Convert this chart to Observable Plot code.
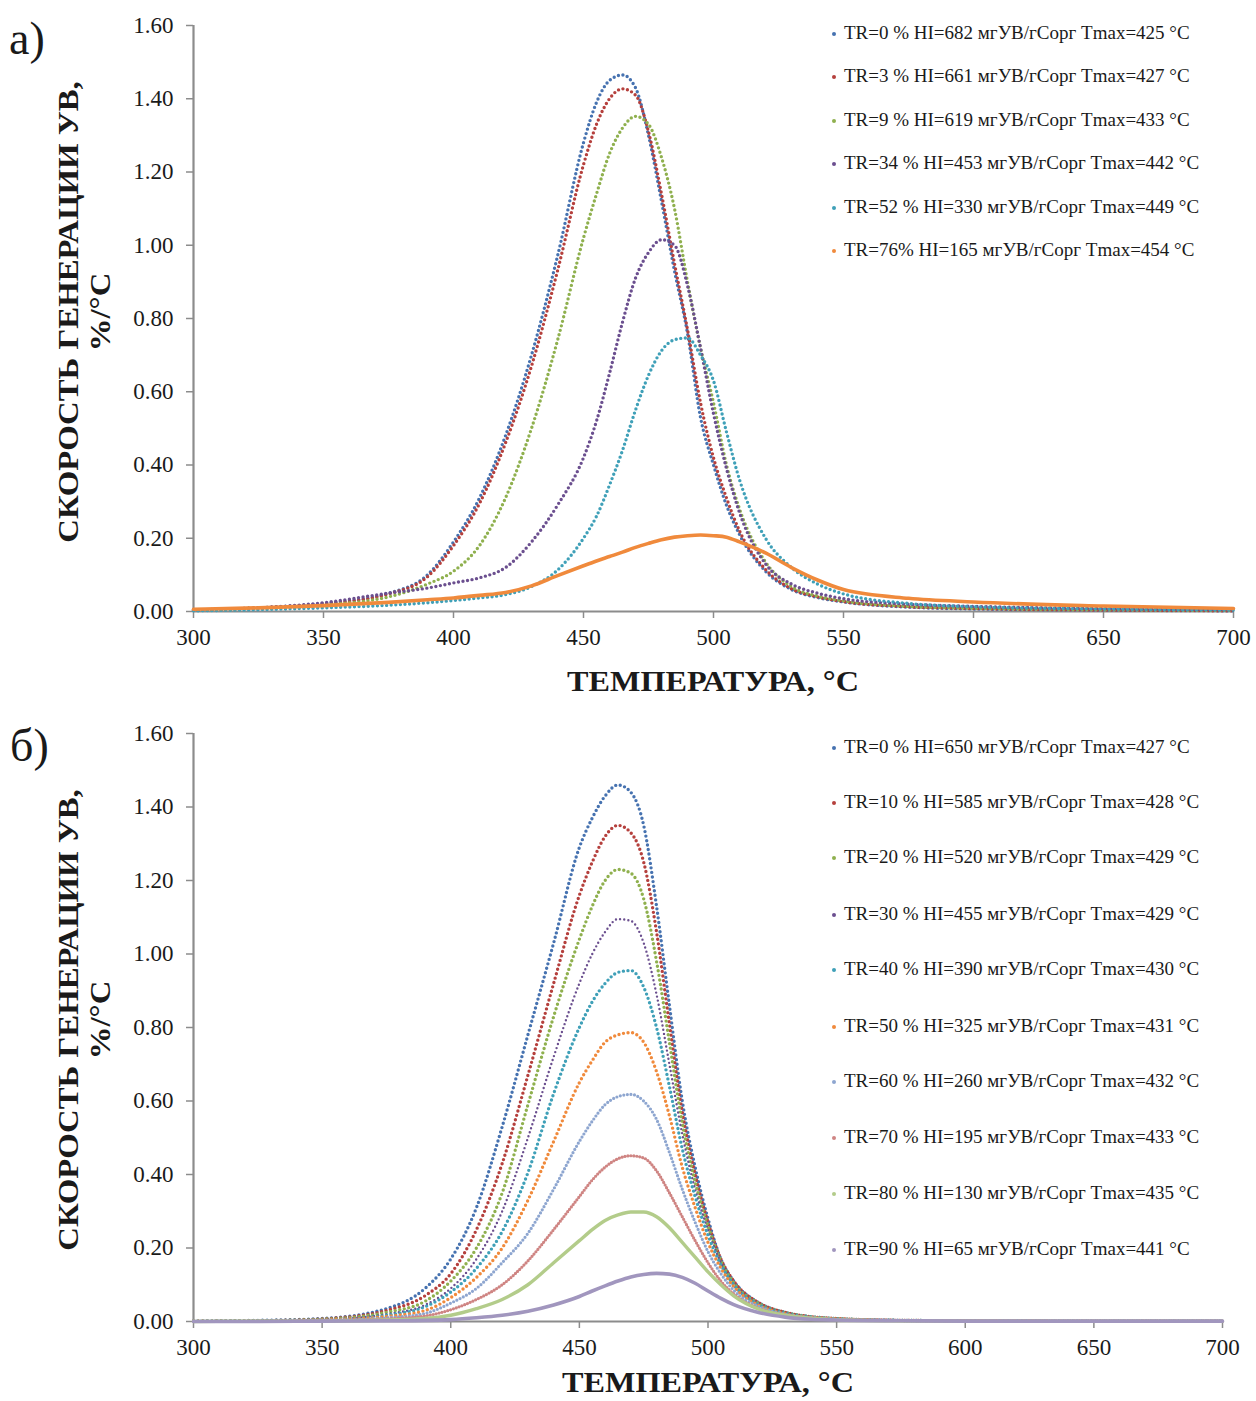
<!DOCTYPE html>
<html><head><meta charset="utf-8">
<script src="https://cdn.jsdelivr.net/npm/d3@7"></script>
<script src="https://cdn.jsdelivr.net/npm/@observablehq/plot@0.6"></script>
<style>
body{margin:0;background:#fff;}
#wrap{position:relative;width:1256px;height:1401px;overflow:hidden;font-family:"Liberation Serif","Times New Roman",serif;color:#1a1a1a;background:#fff;}
.panel{position:absolute;left:0;}
.ytitle{position:absolute;font-weight:bold;font-size:29px;line-height:32px;text-align:center;transform:translate(-50%,-50%) rotate(-90deg) scaleX(1.13);white-space:nowrap;}
.xtitle{position:absolute;font-weight:bold;font-size:29px;line-height:32px;transform:translate(-50%,-50%) scaleX(1.11);white-space:nowrap;}
.letter{position:absolute;font-size:46px;line-height:46px;}
.leg{position:absolute;font-size:19px;line-height:22px;white-space:nowrap;transform:translateY(-50%);}
.leg i{display:inline-block;width:4px;height:4px;border-radius:50%;margin-right:8px;vertical-align:middle;position:relative;top:-1px;}
</style></head>
<body><div id="wrap"></div>
<script>
// ---------- data ----------
const temps = [300,325,350,375,390,400,410,420,430,440,450,455,460,465,470,475,480,485,490,495,500,505,510,520,530,540,550,575,600,650,700];
const xTicks = [300,350,400,450,500,550,600,650,700];
const yTicks = [0,0.2,0.4,0.6,0.8,1.0,1.2,1.4,1.6];

// panel a
const labelsA = [
  "TR=0 % HI=682 мгУВ/гСорг Tmax=425 °C",
  "TR=3 % HI=661 мгУВ/гСорг Tmax=427 °C",
  "TR=9 % HI=619 мгУВ/гСорг Tmax=433 °C",
  "TR=34 % HI=453 мгУВ/гСорг Tmax=442 °C",
  "TR=52 % HI=330 мгУВ/гСорг Tmax=449 °C",
  "TR=76% HI=165 мгУВ/гСорг Tmax=454 °C"
];
const a_TR0  = [0.004,0.010,0.022,0.050,0.100,0.190,0.310,0.480,0.700,0.970,1.280,1.390,1.450,1.465,1.430,1.300,1.120,0.930,0.760,0.530,0.400,0.290,0.210,0.110,0.060,0.038,0.026,0.012,0.007,0.004,0.002];
const a_TR3  = [0.004,0.010,0.021,0.048,0.095,0.180,0.295,0.460,0.670,0.930,1.220,1.330,1.400,1.427,1.410,1.310,1.140,0.950,0.770,0.570,0.420,0.310,0.220,0.115,0.062,0.040,0.027,0.013,0.008,0.004,0.002];
const a_TR9  = [0.004,0.009,0.018,0.040,0.075,0.110,0.180,0.310,0.500,0.740,1.020,1.140,1.250,1.320,1.352,1.330,1.240,1.100,0.900,0.720,0.570,0.400,0.280,0.135,0.068,0.042,0.029,0.014,0.009,0.005,0.003];
const a_TR34 = [0.004,0.010,0.024,0.050,0.064,0.078,0.092,0.120,0.190,0.290,0.420,0.520,0.650,0.790,0.910,0.980,1.015,1.000,0.890,0.720,0.540,0.390,0.270,0.130,0.075,0.050,0.035,0.020,0.014,0.008,0.005];
const a_TR52 = [0.002,0.005,0.010,0.017,0.024,0.030,0.037,0.046,0.068,0.113,0.200,0.260,0.345,0.440,0.550,0.645,0.712,0.742,0.747,0.700,0.630,0.490,0.360,0.200,0.120,0.075,0.048,0.022,0.013,0.007,0.004];
const a_TR76 = [0.006,0.010,0.016,0.025,0.032,0.037,0.044,0.052,0.070,0.098,0.125,0.138,0.150,0.162,0.175,0.186,0.196,0.203,0.207,0.209,0.207,0.203,0.190,0.160,0.120,0.086,0.060,0.036,0.026,0.015,0.008];

// panel б
const labelsB = [
  "TR=0 % HI=650 мгУВ/гСорг Tmax=427 °C",
  "TR=10 % HI=585 мгУВ/гСорг Tmax=428 °C",
  "TR=20 % HI=520 мгУВ/гСорг Tmax=429 °C",
  "TR=30 % HI=455 мгУВ/гСорг Tmax=429 °C",
  "TR=40 % HI=390 мгУВ/гСорг Tmax=430 °C",
  "TR=50 % HI=325 мгУВ/гСорг Tmax=431 °C",
  "TR=60 % HI=260 мгУВ/гСорг Tmax=432 °C",
  "TR=70 % HI=195 мгУВ/гСорг Tmax=433 °C",
  "TR=80 % HI=130 мгУВ/гСорг Tmax=435 °C",
  "TR=90 % HI=65 мгУВ/гСорг Tmax=441 °C"
];
const b_TR0  = [0.001,0.003,0.008,0.035,0.090,0.170,0.310,0.530,0.780,1.030,1.290,1.370,1.430,1.460,1.440,1.350,1.130,0.860,0.600,0.420,0.280,0.170,0.110,0.050,0.025,0.013,0.008,0.003,0.002,0.001,0.001];
const b_TR10 = [0.001,0.002,0.007,0.030,0.070,0.130,0.250,0.430,0.670,0.920,1.160,1.250,1.320,1.350,1.330,1.250,1.060,0.810,0.570,0.400,0.270,0.170,0.110,0.050,0.025,0.013,0.008,0.003,0.002,0.001,0.001];
const b_TR20 = [0.001,0.002,0.006,0.025,0.055,0.110,0.200,0.350,0.590,0.830,1.040,1.130,1.200,1.230,1.220,1.150,0.980,0.760,0.540,0.380,0.260,0.165,0.105,0.048,0.024,0.013,0.008,0.003,0.002,0.001,0.001];
const b_TR30 = [0.001,0.002,0.005,0.020,0.045,0.090,0.170,0.300,0.500,0.720,0.920,1.000,1.060,1.095,1.090,1.030,0.890,0.700,0.510,0.360,0.250,0.160,0.100,0.047,0.023,0.012,0.007,0.003,0.002,0.001,0.001];
const b_TR40 = [0.001,0.002,0.004,0.017,0.040,0.080,0.145,0.245,0.405,0.620,0.800,0.870,0.920,0.950,0.955,0.910,0.800,0.640,0.470,0.340,0.235,0.155,0.100,0.045,0.022,0.012,0.007,0.003,0.002,0.001,0.001];
const b_TR50 = [0.001,0.001,0.004,0.014,0.030,0.065,0.120,0.200,0.330,0.490,0.650,0.710,0.760,0.780,0.786,0.760,0.680,0.560,0.420,0.310,0.215,0.145,0.095,0.043,0.021,0.011,0.007,0.003,0.002,0.001,0.001];
const b_TR60 = [0.001,0.001,0.003,0.010,0.022,0.050,0.090,0.160,0.240,0.360,0.490,0.545,0.590,0.612,0.618,0.600,0.550,0.460,0.360,0.270,0.190,0.130,0.085,0.040,0.020,0.011,0.006,0.003,0.002,0.001,0.001];
const b_TR70 = [0.000,0.001,0.002,0.007,0.015,0.032,0.060,0.100,0.165,0.250,0.340,0.385,0.420,0.443,0.451,0.445,0.410,0.350,0.285,0.220,0.160,0.110,0.075,0.035,0.018,0.010,0.006,0.003,0.002,0.001,0.001];
const b_TR80 = [0.000,0.001,0.001,0.004,0.008,0.017,0.035,0.060,0.100,0.160,0.220,0.250,0.275,0.290,0.298,0.298,0.285,0.255,0.215,0.175,0.135,0.100,0.070,0.033,0.017,0.009,0.005,0.002,0.001,0.001,0.001];
const b_TR90 = [0.000,0.000,0.001,0.002,0.003,0.005,0.010,0.017,0.028,0.045,0.068,0.083,0.097,0.110,0.121,0.128,0.131,0.129,0.120,0.104,0.083,0.063,0.046,0.024,0.012,0.006,0.004,0.002,0.001,0.001,0.001];

// ---------- styles ----------
const colorsA = ["#4672B0","#B5403D","#8FB04E","#6B4F8F","#3FA0B8","#F08A3C"];
const colorsB = ["#4672B0","#B5403D","#8FB04E","#6B4F8F","#3FA0B8","#F08A3C","#8EA6D0","#CF8583","#B3CC8A","#A196BE"];
const dotted = {strokeWidth:3.4, strokeDasharray:"0 4.6", strokeLinecap:"round"};
const stylesA = [dotted,dotted,dotted,dotted,dotted,{strokeWidth:3.6}];
const stylesB = [dotted,dotted,dotted,{strokeWidth:2.4, strokeDasharray:"0 4.2", strokeLinecap:"round"},dotted,dotted,
  {strokeWidth:3.2, strokeDasharray:"0 3.6", strokeLinecap:"round"},
  {strokeWidth:3.2, strokeDasharray:"0 3", strokeLinecap:"round"},{strokeWidth:3.4},{strokeWidth:3.6}];

const seriesA = [a_TR0,a_TR3,a_TR9,a_TR34,a_TR52,a_TR76];
const seriesB = [b_TR0,b_TR10,b_TR20,b_TR30,b_TR40,b_TR50,b_TR60,b_TR70,b_TR80,b_TR90];

const FONT = '"Liberation Serif","Times New Roman",serif';
const AX = "#8c8c8c";

function makePlot(series, colors, styles, dims){
  const lines = series.map((vals,i)=>{
    const rows = temps.map((t,j)=>({T:t, v:vals[j]}));
    return Plot.line(rows, {x:"T", y:"v", curve:"monotone-x", stroke:colors[i], ...styles[i]});
  });
  return Plot.plot({
    width:1256, height:dims.height,
    marginLeft:193, marginRight:dims.mr, marginTop:dims.mt, marginBottom:dims.mb,
    x:{domain:[300,700]}, y:{domain:[0,1.6]},
    style:{fontFamily:FONT, fontSize:"23px", color:"#1a1a1a", background:"transparent", overflow:"visible"},
    marks:[
      Plot.axisY({ticks:yTicks, tickFormat:d=>d.toFixed(2), tickSize:7, tickPadding:13, stroke:AX, strokeWidth:1.5, fill:"#1a1a1a", fontSize:23, label:null}),
      Plot.axisX({ticks:xTicks, tickFormat:d=>String(d), tickSize:7, tickPadding:10, stroke:AX, strokeWidth:1.5, fill:"#1a1a1a", fontSize:23, label:null}),
      Plot.ruleX([300], {stroke:AX, strokeWidth:2.2}),
      Plot.ruleY([0], {stroke:AX, strokeWidth:2.2}),
      ...lines
    ]
  });
}

const wrap = document.getElementById("wrap");
function add(el, top){ const d=document.createElement("div"); d.className="panel"; d.style.top=top+"px"; d.appendChild(el); wrap.appendChild(d); }
function html(cls, text, css){ const d=document.createElement("div"); d.className=cls; d.innerHTML=text; Object.assign(d.style, css); wrap.appendChild(d); return d; }

add(makePlot(seriesA, colorsA, stylesA, {height:700, mr:23, mt:25, mb:89}), 0);
add(makePlot(seriesB, colorsB, stylesB, {height:701, mr:34, mt:33, mb:80}), 700);

// titles
html("ytitle","СКОРОСТЬ ГЕНЕРАЦИИ УВ,<br>%/°С",{left:"84px",top:"312px"});
html("ytitle","СКОРОСТЬ ГЕНЕРАЦИИ УВ,<br>%/°С",{left:"84px",top:"1020px"});
html("xtitle","ТЕМПЕРАТУРА, °С",{left:"713px",top:"681px"});
html("xtitle","ТЕМПЕРАТУРА, °С",{left:"708px",top:"1382px"});
html("letter","а)",{left:"9px",top:"16px"});
html("letter","б)",{left:"10px",top:"723px"});

// legends
const legYA = [33,76,120,163,207,250];
labelsA.forEach((s,i)=>html("leg",`<i style="background:${colorsA[i]}"></i>${s}`,{left:"832px",top:legYA[i]+"px"}));
const legYB = [747,802,857,914,969,1026,1081,1137,1193,1249];
labelsB.forEach((s,i)=>html("leg",`<i style="background:${colorsB[i]}"></i>${s}`,{left:"832px",top:legYB[i]+"px"}));
</script></body></html>
